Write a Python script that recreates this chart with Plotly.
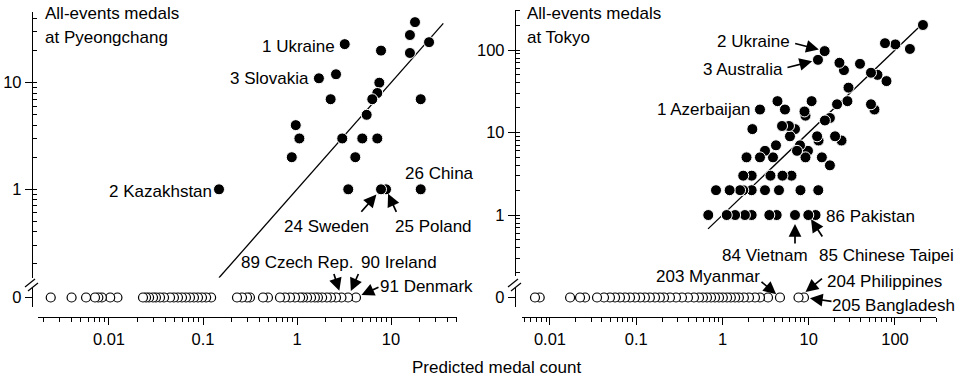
import math
import plotly.graph_objects as go

# ---------------- data ----------------
# Pyeongchang: predicted medal count and actual medal count (winners)
pc_medal_pred = [18.0, 15.9, 25.4, 3.22, 7.83, 15.9, 1.71, 2.60, 7.51, 7.15,
                 2.28, 6.32, 20.7, 5.51, 0.97, 1.06, 3.03, 4.95, 7.15, 0.88,
                 4.17, 3.51, 8.85, 7.83, 20.7, 0.148]
pc_medal_count = [37, 28, 24, 23, 20, 19, 11, 12, 10, 8,
                  7, 7, 7, 5, 4, 3, 3, 3, 3, 2,
                  2, 1, 1, 1, 1, 1]
# Pyeongchang: predicted count for nations with zero medals
pc_zero_pred = [0.0024, 0.0040, 0.0057, 0.0071, 0.0077, 0.0084, 0.0103, 0.0123,
                0.0230, 0.0248, 0.0267, 0.0294, 0.0316, 0.0349, 0.0385, 0.0446,
                0.0491, 0.0542, 0.0598, 0.0659, 0.0727, 0.0802, 0.0885, 0.0976,
                0.108, 0.122, 0.230, 0.260, 0.294, 0.316, 0.435, 0.491, 0.659,
                0.745, 0.843, 0.952, 1.08, 1.16, 1.28, 1.41, 1.55, 1.67, 1.85,
                2.08, 2.30, 2.60, 2.97, 3.49, 4.24]
pc_fit = [0.148, 36.0]

# Tokyo
tk_medal_pred = [211, 76.6, 101, 149, 15.3, 12.8, 22.7, 25.6, 39.3, 52.7,
                 62.7, 79.7, 28.9, 28.1, 21.3, 52.7, 57.8, 10.8, 4.34, 5.30,
                 8.93, 9.17, 2.72, 2.22, 4.90, 5.90, 6.93, 15.4, 17.6, 6.06,
                 12.5, 20.2, 24.0, 13.0, 4.17, 7.92, 3.11, 2.72, 3.85, 7.31,
                 9.80, 9.17, 14.2, 17.6, 1.90, 1.74, 2.18, 3.60, 4.96, 6.31,
                 0.841, 1.21, 1.60, 1.74, 2.18, 3.11, 4.52, 8.02, 12.9,
                 0.684, 1.12, 1.40, 1.82, 2.18, 3.49, 4.25, 6.93, 9.88, 12.0]
tk_medal_count = [201, 121, 117, 103, 97, 76, 70, 57, 68, 53,
                  50, 42, 35, 24, 22, 22, 19, 24, 24, 19,
                  18, 16, 19, 11, 12, 12, 11, 14, 15, 9,
                  9, 9, 8, 8, 7, 7, 6, 5, 5, 6,
                  6, 5, 5, 4, 5, 3, 3, 3, 3, 3,
                  2, 2, 2, 2, 2, 2, 2, 2, 2,
                  1, 1, 1, 1, 1, 1, 1, 1, 1, 1]
tk_zero_pred = [0.0067, 0.0076, 0.0171, 0.0223, 0.0255, 0.0351, 0.0423, 0.0496,
                0.0568, 0.0648, 0.0741, 0.0847, 0.0968, 0.111, 0.126, 0.144,
                0.165, 0.188, 0.210, 0.246, 0.289, 0.339, 0.398, 0.467, 0.534,
                0.594, 0.661, 0.736, 0.819, 0.911, 1.01, 1.13, 1.25, 1.40, 1.55,
                1.77, 2.03, 2.38, 2.72, 3.37, 4.64, 7.61, 8.81]
tk_fit = [0.68, 200.0]

pc_text_labels = ["1 Ukraine", "3 Slovakia", "2 Kazakhstan", "26 China",
                  "24 Sweden", "25 Poland", "89 Czech Rep.", "90 Ireland", "91 Denmark"]
tk_text_labels = ["2 Ukraine", "3 Australia", "1 Azerbaijan", "86 Pakistan",
                  "84 Vietnam", "85 Chinese Taipei", "203 Myanmar",
                  "204 Philippines", "205 Bangladesh"]
panel_titles = [["All-events medals", "at Pyeongchang"], ["All-events medals", "at Tokyo"]]
x_title = "Predicted medal count"

# ---------------- layout helpers ----------------
W, H = 957, 378
FONT = "Liberation Sans, Arial, Helvetica, sans-serif"
LABEL_SIZE = 17


def fx(p):
    return p / W


def fy(p):
    return 1 - p / H


fig = go.Figure()


def add_panel(xa, ya_log, ya_zero, pred, count, zero_pred, fit):
    fig.add_trace(go.Scatter(x=fit, y=fit, mode="lines",
                             line=dict(color="black", width=1.3),
                             xaxis=xa, yaxis=ya_log, hoverinfo="skip"))
    order = sorted(range(len(pred)), key=lambda i: -pred[i])
    fig.add_trace(go.Scatter(x=[pred[i] for i in order], y=[count[i] for i in order],
                             mode="markers", cliponaxis=False,
                             marker=dict(size=11, color="black",
                                         line=dict(color="white", width=1)),
                             xaxis=xa, yaxis=ya_log))
    zs = sorted(zero_pred, reverse=True)
    fig.add_trace(go.Scatter(x=zs, y=[0] * len(zs), mode="markers", cliponaxis=False,
                             marker=dict(size=9, color="white",
                                         line=dict(color="black", width=1.2)),
                             xaxis=xa, yaxis=ya_zero))


add_panel("x", "y", "y2", pc_medal_pred, pc_medal_count, pc_zero_pred, pc_fit)
add_panel("x2", "y3", "y4", tk_medal_pred, tk_medal_count, tk_zero_pred, tk_fit)

common = dict(showline=True, linecolor="black", linewidth=1.4, ticks="outside",
              ticklen=7, tickwidth=1.4, tickcolor="black", showgrid=False,
              zeroline=False, anchor="free",
              tickfont=dict(family=FONT, size=16.5, color="black"))
xminor = dict(ticks="outside", ticklen=4, tickwidth=1, tickcolor="black",
              dtick="D1", showgrid=False)
yminor = dict(ticks="inside", ticklen=4, tickwidth=1, tickcolor="black",
              dtick="D1", showgrid=False)

fig.update_layout(
    width=W, height=H, margin=dict(l=0, r=0, t=0, b=0),
    paper_bgcolor="white", plot_bgcolor="white", showlegend=False,
    font=dict(family=FONT, size=16, color="black"),
    xaxis=dict(type="log", domain=[fx(38.3), fx(457)], range=[-2.752, 1.702],
               position=fy(316.7), dtick=1, minor=xminor, **common),
    yaxis=dict(type="log", domain=[fy(277.8), fy(11.7)], range=[-0.83, 1.666],
               position=fx(32), dtick=1, minor=yminor, **common),
    yaxis2=dict(domain=[fy(307), fy(288)], range=[-1, 1], tickmode="array",
                tickvals=[0], ticktext=["0"], position=fx(32), **common),
    xaxis2=dict(type="log", domain=[fx(521.7), fx(936.3)], range=[-2.328, 2.479],
                position=fy(316.7), dtick=1, minor=xminor, **common),
    yaxis3=dict(type="log", domain=[fy(276), fy(10)], range=[-0.739, 2.485],
                position=fx(515), dtick=1, minor=yminor, **common),
    yaxis4=dict(domain=[fy(307), fy(288)], range=[-1, 1], tickmode="array",
                tickvals=[0], ticktext=["0"], position=fx(515), **common),
)

# axis-break marks
shapes = []
for ax0 in (32, 515):
    for dx, dy in ((0, 0), (3, 4)):
        shapes.append(dict(type="line", xref="paper", yref="paper",
                           x0=fx(ax0 - 7 + dx), y0=fy(287 + dy),
                           x1=fx(ax0 + 3 + dx), y1=fy(279 + dy),
                           line=dict(color="black", width=1.3)))
fig.update_layout(shapes=shapes)

ann = []


def text_at(t, cx, cy, anchor="center"):
    ann.append(dict(text=t, xref="paper", yref="paper", x=fx(cx), y=fy(cy),
                    xanchor=anchor, yanchor="middle", showarrow=False,
                    font=dict(family=FONT, size=LABEL_SIZE, color="black")))


for (l1, l2), x0 in zip(panel_titles, (43.3, 524.7)):
    text_at(l1, x0, 14, "left")
    text_at(l2, x0, 37.5, "left")
text_at(x_title, 496.5, 367)

pc_pos = [(298, 47), (269, 79), (160.5, 191), (439.5, 173), (326.3, 226),
          (433.3, 226), (297, 262), (399, 262), (426, 286)]
tk_pos = [(753.3, 41), (743, 69.5), (704, 109.5), (870.5, 216), (765.3, 255.5),
          (886, 255.5), (708, 276), (884, 281), (893, 305)]
for t, (cx, cy) in zip(pc_text_labels, pc_pos):
    text_at(t, cx, cy)
for t, (cx, cy) in zip(tk_text_labels, tk_pos):
    text_at(t, cx, cy)


def arrow(xref, yref, xv, yv, ax, ay, standoff, log_y=True):
    ann.append(dict(text="", xref=xref, yref=yref, x=math.log10(xv),
                    y=math.log10(yv) if log_y else yv, ax=ax, ay=ay,
                    showarrow=True, arrowhead=2, arrowsize=1.5, arrowwidth=1.7,
                    arrowcolor="black", standoff=standoff))


arrow("x", "y", pc_medal_pred[23], pc_medal_count[23], -21, 24, 7)   # Sweden
arrow("x", "y", pc_medal_pred[22], pc_medal_count[22], 11, 24, 5)    # Poland
arrow("x", "y2", pc_zero_pred[-3], 0, -8, -25, 7, log_y=False)       # Czech
arrow("x", "y2", pc_zero_pred[-2], 0, 11, -25, 7, log_y=False)       # Ireland
arrow("x", "y2", pc_zero_pred[-1], 0, 24, -11, 6, log_y=False)       # Denmark
arrow("x2", "y3", tk_medal_pred[4], tk_medal_count[4], -31, -8, 6)   # Ukraine
arrow("x2", "y3", tk_medal_pred[5], tk_medal_count[5], -32, 8, 6)    # Australia
arrow("x2", "y3", tk_medal_pred[-3], tk_medal_count[-3], 0, 30, 9)   # Vietnam
arrow("x2", "y3", tk_medal_pred[-2], tk_medal_count[-2], 15, 23, 5)  # Chinese Taipei
arrow("x2", "y4", tk_zero_pred[-3], 0, -20, -17, 5, log_y=False)     # Myanmar
arrow("x2", "y4", tk_zero_pred[-2], 0, 25, -20, 9, log_y=False)      # Philippines
arrow("x2", "y4", tk_zero_pred[-1], 0, 29, 4, 6, log_y=False)        # Bangladesh

fig.update_layout(annotations=ann)
fig.write_html("out.html",
               config={"displayModeBar": False},
               post_script="document.body.style.margin='0';"
                           "document.body.style.overflow='hidden';")
